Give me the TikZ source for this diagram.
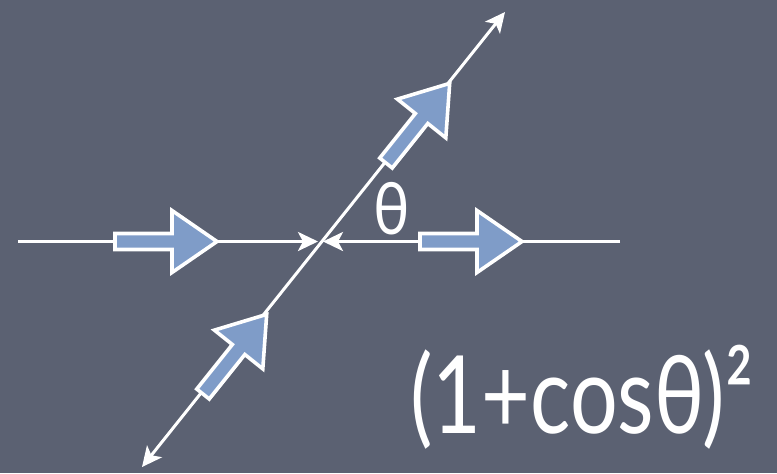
\documentclass[tikz,border=0pt]{standalone}
\usepackage{fontspec}
\setmainfont{Lato}
\usetikzlibrary{arrows.meta}
\definecolor{board}{HTML}{5B6172}
\definecolor{flowblue}{HTML}{7F9CC8}
\tikzset{
  wire/.style={draw=white,line width=1.5pt,-{Stealth[length=10pt,width=9.5pt,inset=2.5pt]}},
  wirek/.style={draw=white,line width=1.5pt,{Stealth[length=10pt,width=9.5pt,inset=2.5pt]}-{Stealth[length=10pt,width=9.5pt,inset=2.5pt]}},
  blk/.style={draw=white,fill=flowblue,line width=1.8pt,line join=miter},
  lbl/.style={text=white,font=\fontsize{36}{38}\selectfont,inner sep=0pt,xscale=0.85},
  big/.style={text=white,font=\fontsize{54}{58}\selectfont,inner sep=0pt,xscale=0.78},
  flow/.pic={\path[blk] (0,-8) -- (57,-8) -- (57,-31) -- (102,0) -- (57,31) -- (57,8) -- (0,8) -- cycle;},
}
\begin{document}
\begin{tikzpicture}[x=0.5pt,y=-0.5pt]
\fill[board] (0,0) rectangle (777,473);
\useasboundingbox (0,0) rectangle (777,473);
% beams
\coordinate (l) at (18,241.5);
\coordinate (r) at (620,241.5);
\coordinate (lhit) at (318,241.5);
\coordinate (rhit) at (323,241.5);
\coordinate (dlo) at (142,467);
\coordinate (dhi) at (505,12);
\draw[wire] (l) -- (lhit);
\draw[wire] (r) -- (rhit);
\draw[wirek] (dlo) -- (dhi);
% flow arrows
\pic at (115,241.5) {flow};
\pic at (420,241.5) {flow};
\pic[rotate=51.35] at (386,163) {flow};
\pic[rotate=51.35] at (203,394) {flow};
% labels
\node[lbl] (theta) at (392,209) {θ};
\node[big,anchor=base west] (amp) at (410,433) {(1+cosθ)²};
\end{tikzpicture}
\end{document}
